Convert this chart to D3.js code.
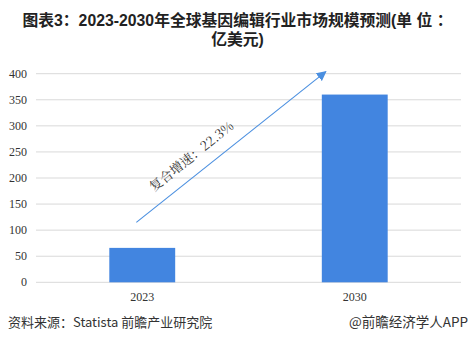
<!DOCTYPE html>
<html><head><meta charset="utf-8">
<script src="https://cdn.jsdelivr.net/npm/d3@7"></script>
<style>body{margin:0;background:#fff}svg{display:block}</style>
</head><body>
<script>
const categories = ["2023", "2030"];
const values = [66, 360];
const yTicks = [0, 50, 100, 150, 200, 250, 300, 350, 400];
const titleLines = ["图表3：2023-2030年全球基因编辑行业市场规模预测(单 位 ：", "亿美元)"];
const cagrLabel = "复合增速：22.3%";
const sourceText = "资料来源：Statista 前瞻产业研究院";
const brandText = "@前瞻经济学人APP";

const W = 475, H = 351;
const svg = d3.select("body").append("svg").attr("width", W).attr("height", H);
const m = {left: 36, right: 14, top: 73.7, bottom: 68.7};
const x = d3.scaleBand().domain(categories).range([m.left, W - m.right]).paddingInner(0.69).paddingOuter(0.345);
const y = d3.scaleLinear().domain([0, 400]).range([H - m.bottom, m.top]);

// title (one text, two lines)
const title = svg.append("text").attr("text-anchor", "middle")
  .attr("font-family", "'Liberation Sans', 'Noto Sans CJK SC', sans-serif")
  .attr("font-weight", "bold").attr("font-size", 15.8).attr("fill", "#222");
title.selectAll("tspan").data(titleLines).enter().append("tspan")
  .attr("x", W / 2).attr("y", (d, i) => 26 + i * 19).text(d => d);

// grid
svg.append("g").selectAll("line").data(yTicks).enter().append("line")
  .attr("x1", m.left).attr("x2", W - m.right)
  .attr("y1", d => y(d)).attr("y2", d => y(d))
  .attr("stroke", "#d9d9d9").attr("stroke-width", 1);

// y labels
svg.append("g").selectAll("text").data(yTicks).enter().append("text")
  .attr("x", 27).attr("y", d => y(d) + 4).attr("text-anchor", "end")
  .attr("font-family", "'Liberation Serif', serif").attr("font-size", 12).attr("fill", "#333").text(d => d);

// bars
svg.append("g").selectAll("rect").data(values).enter().append("rect")
  .attr("x", (d, i) => x(categories[i])).attr("width", x.bandwidth())
  .attr("y", d => y(d)).attr("height", d => y(0) - y(d)).attr("fill", "#4285e0");

// x labels
svg.append("g").selectAll("text").data(categories).enter().append("text")
  .attr("x", d => x(d) + x.bandwidth() / 2).attr("y", 301).attr("text-anchor", "middle")
  .attr("font-family", "'Liberation Serif', serif").attr("font-size", 12).attr("fill", "#333").text(d => d);

// arrow
const defs = svg.append("defs");
defs.append("marker").attr("id", "ah").attr("viewBox", "0 0 10 10").attr("refX", 9).attr("refY", 5)
  .attr("markerWidth", 10).attr("markerHeight", 10).attr("markerUnits", "userSpaceOnUse").attr("orient", "auto")
  .append("path").attr("d", "M0,0 L10,5 L0,10 Z").attr("fill", "#4a8fe0");
const ax1 = x("2023") + 27, ay1 = y(115), ax2 = x("2030") + 4, ay2 = y(404);
svg.append("line").attr("x1", ax1).attr("y1", ay1).attr("x2", ax2).attr("y2", ay2)
  .attr("stroke", "#4a8fe0").attr("stroke-width", 1.1).attr("marker-end", "url(#ah)");
const ang = Math.atan2(ay2 - ay1, ax2 - ax1) * 180 / Math.PI;
svg.append("text").attr("transform", `translate(154,192) rotate(${ang})`)
  .attr("font-family", "'Noto Serif CJK SC','Liberation Serif', serif").attr("font-size", 13).attr("fill", "#333").text(cagrLabel);

// footer
svg.append("text").attr("x", 8).attr("y", 327).attr("font-family", "'Noto Sans CJK SC', sans-serif")
  .attr("font-size", 13).attr("fill", "#333").text(sourceText);
svg.append("text").attr("x", 468).attr("y", 327).attr("text-anchor", "end").attr("font-family", "'Noto Sans CJK SC', sans-serif")
  .attr("font-size", 13.5).attr("fill", "#333").text(brandText);
</script>
</body></html>
